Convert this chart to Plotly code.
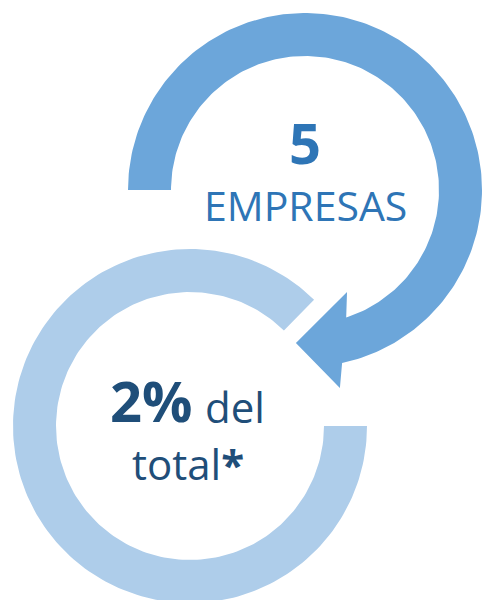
import numpy as np
import plotly.graph_objects as go

# ---- content ----
top_value = ["5"]
top_label = ["EMPRESAS"]
bottom_value = ["2%"]
bottom_label = ["del", "total"]

# ---- geometry parameters (canvas pixel units) ----
W, H = 482, 600
top_c = (305, 190)
top_ro, top_ri = 177, 134
top_start = 180.0          # screen angle (deg, y down) of the flat left end
top_end_outer = 437.9      # arc end angles, outer / inner edge
top_end_inner = 432.1
head_inner = (110.3, 427.6)   # (radius, angle) of arrow head corners
head_outer = (201.0, 440.0)
head_tip = (153.3, 453.4)

bot_c = (190, 426)
bot_ro, bot_ri = 177, 134
bot_start, bot_end = 0.0, 314.5

COL_TOP = "#6CA6DA"
COL_BOT = "#AECDEA"
COL_TXT_TOP = "#2E75B6"
COL_TXT_BOT = "#1F4E79"
FONT = "Open Sans"


def pol(c, r, a):
    t = np.deg2rad(a)
    return c[0] + r * np.cos(t), c[1] + r * np.sin(t)


def arc(c, r, a0, a1, n=200):
    a = np.linspace(a0, a1, n)
    x, y = pol(c, r, a)
    return list(x), list(y)


fig = go.Figure()

# bottom ring
xo, yo = arc(bot_c, bot_ro, bot_start, bot_end)
xi, yi = arc(bot_c, bot_ri, bot_end, bot_start)
fig.add_trace(go.Scatter(x=xo + xi + [xo[0]], y=yo + yi + [yo[0]], mode="lines",
                         fill="toself", fillcolor=COL_BOT, line=dict(width=0),
                         hoverinfo="skip", showlegend=False))

# top circular arrow
xo, yo = arc(top_c, top_ro, top_start, top_end_outer)
xi, yi = arc(top_c, top_ri, top_end_inner, top_start)
hx, hy = [], []
for r, a in (head_outer, head_tip, head_inner):
    px, py = pol(top_c, r, a)
    hx.append(float(px)); hy.append(float(py))
fig.add_trace(go.Scatter(x=xo + hx + xi + [xo[0]], y=yo + hy + yi + [yo[0]], mode="lines",
                         fill="toself", fillcolor=COL_TOP, line=dict(width=0),
                         hoverinfo="skip", showlegend=False))

ann = []
ann.append(dict(x=305, y=142, text="<b>%s</b>" % top_value[0], showarrow=False,
                font=dict(family=FONT, size=56, color=COL_TXT_TOP),
                xanchor="center", yanchor="middle"))
ann.append(dict(x=305, y=205, text=top_label[0], showarrow=False,
                font=dict(family=FONT, size=41, color=COL_TXT_TOP),
                xanchor="center", yanchor="middle"))
ann.append(dict(x=194, y=400, text="<b>%s</b>" % bottom_value[0], showarrow=False,
                font=dict(family=FONT, size=56, color=COL_TXT_BOT),
                xanchor="right", yanchor="middle"))
ann.append(dict(x=203, y=406, text=bottom_label[0], showarrow=False,
                font=dict(family=FONT, size=42, color=COL_TXT_BOT),
                xanchor="left", yanchor="middle"))
ann.append(dict(x=188, y=463, text=bottom_label[1] + "<b>*</b>", showarrow=False,
                font=dict(family=FONT, size=42, color=COL_TXT_BOT),
                xanchor="center", yanchor="middle"))

fig.update_layout(
    width=W, height=H, margin=dict(l=0, r=0, t=0, b=0),
    paper_bgcolor="white", plot_bgcolor="white",
    xaxis=dict(range=[0, W], visible=False, fixedrange=True),
    yaxis=dict(range=[H, 0], visible=False, fixedrange=True),
    annotations=ann, showlegend=False,
)

fig.write_html("out.html", config={"displayModeBar": False, "staticPlot": True},
               post_script="document.body.style.margin='0';")
